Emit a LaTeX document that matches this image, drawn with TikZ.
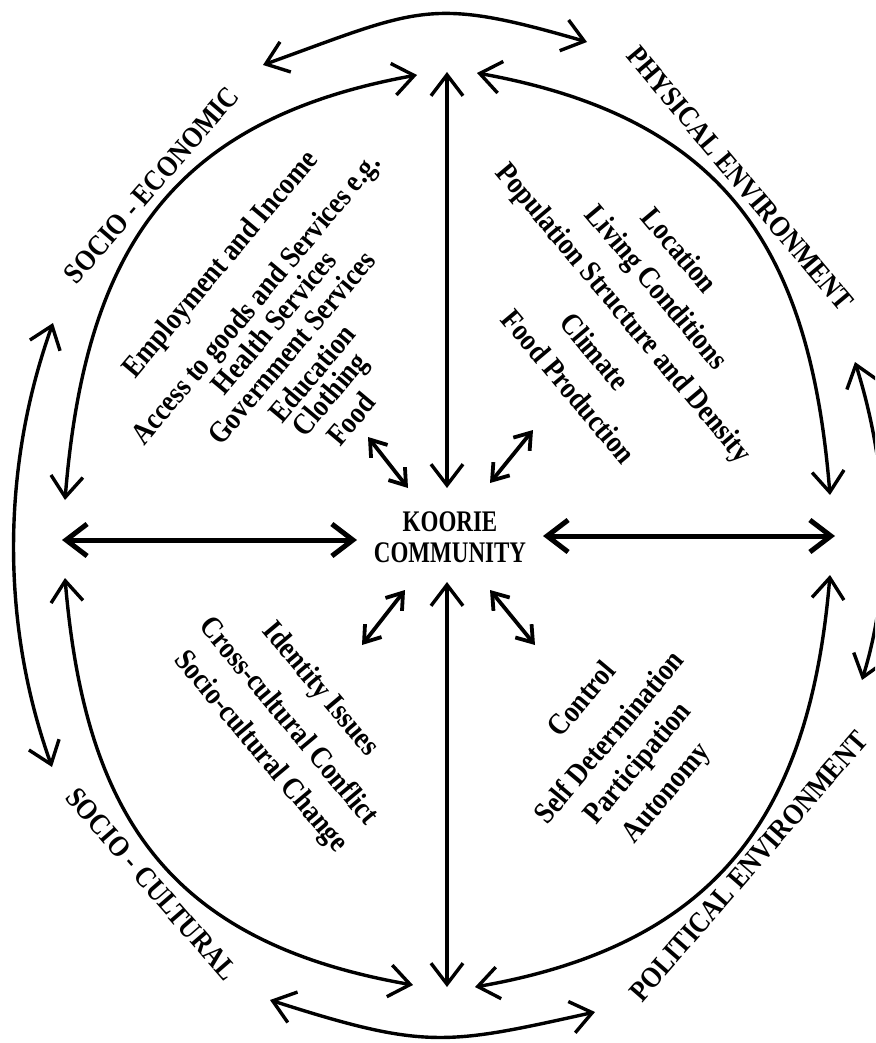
\documentclass[tikz,border=0pt]{standalone}
\usepackage{fontspec}
\setmainfont{Liberation Serif}
\usetikzlibrary{arrows.meta}
\begin{document}
\begin{tikzpicture}[x=1pt,y=-1pt,
  >={Straight Barb[length=21pt,width=32pt]},
  small/.style={arrows={Straight Barb[length=15pt,width=21pt]-Straight Barb[length=15pt,width=21pt]}},
  arcline/.style={line width=3.4pt,<->},
  axis/.style={line width=3.4pt,<->},
  haxis/.style={line width=5pt,<->},
  diag/.style={line width=3.8pt,small},
  item/.style={font=\fontsize{26.5}{30}\selectfont\bfseries, inner sep=0pt, yscale=1.15},
  lab/.style={font=\fontsize{25.5}{30}\selectfont\bfseries, inner sep=0pt, yscale=1.15},
  centre/.style={font=\fontsize{23}{24}\selectfont\bfseries, inner sep=0pt, align=center, yscale=1.3}
]
\useasboundingbox (0,0) rectangle (875,1043);
\fill[white] (0,0) rectangle (875,1043);
\clip (0,0) rectangle (875,1043);

% centre
\node[centre] (kc) at (450,537) {KOORIE\\COMMUNITY};

% axis arrows
\coordinate (vt1) at (447,72);  \coordinate (vt2) at (447,488);
\coordinate (vb1) at (447,582); \coordinate (vb2) at (447,987);
\coordinate (hl1) at (62,540);  \coordinate (hl2) at (357,540);
\coordinate (hr1) at (543,536); \coordinate (hr2) at (835,536);
\draw[axis] (vt1) -- (vt2);
\draw[axis] (vb1) -- (vb2);
\draw[haxis] (hl1) -- (hl2);
\draw[haxis] (hr1) -- (hr2);

% diagonal arrows
\coordinate (d1a) at (368,437); \coordinate (d1b) at (408,488);
\coordinate (d2a) at (533,430); \coordinate (d2b) at (490,483);
\coordinate (d3a) at (405,590); \coordinate (d3b) at (362,645);
\coordinate (d4a) at (490,590); \coordinate (d4b) at (535,645);
\draw[diag] (d1a) -- (d1b);
\draw[diag] (d2a) -- (d2b);
\draw[diag] (d3a) -- (d3b);
\draw[diag] (d4a) -- (d4b);

% inner arcs
\coordinate (tl1) at (417,75);  \coordinate (tl2) at (65,500);
\coordinate (tr1) at (477,73);  \coordinate (tr2) at (830,495);
\coordinate (bl1) at (65,578);  \coordinate (bl2) at (413,985);
\coordinate (br1) at (830,575); \coordinate (br2) at (475,987);
\draw[arcline] (tl1) .. controls (168,120) and (85,254) .. (tl2);
\draw[arcline] (tr1) .. controls (726,118) and (810,249) .. (tr2);
\draw[arcline] (bl1) .. controls (85,814) and (167,942) .. (bl2);
\draw[arcline] (br1) .. controls (810,811) and (721,944) .. (br2);

% outer arcs
\coordinate (ot1) at (263,65);  \coordinate (ot2) at (587,42);
\coordinate (ob1) at (270,1000); \coordinate (ob2) at (595,1012);
\coordinate (ol1) at (53,323);  \coordinate (ol2) at (52,767);
\coordinate (or1) at (855,362); \coordinate (or2) at (862,680);
\draw[arcline] (ot1) .. controls (421,8) and (429,-4) .. (ot2);
\draw[arcline] (ob1) .. controls (426,1050) and (446,1045) .. (ob2);
\draw[arcline] (ol1) .. controls (1.5,467) and (0.6,623) .. (ol2);
\draw[arcline] (or1) .. controls (887.6,465.5) and (894,576) .. (or2);

% quadrant labels
\node[rotate=49, lab]  (se) at (151.5,185) {SOCIO - ECONOMIC};
\node[rotate=-50, lab] (pe) at (740,178.5) {PHYSICAL ENVIRONMENT};
\node[rotate=-49, lab] (sc) at (151.5,884) {SOCIO - CULTURAL};
\node[rotate=49, lab]  (po) at (748.5,866.5) {POLITICAL ENVIRONMENT};

% socio-economic items
\node[rotate=50, item] (a1) at (221.5,265) {Employment and Income};
\node[rotate=50, item] (a2) at (257.5,300.5) {Access to goods and Services e.g.};
\node[rotate=50, item] (a3) at (273.5,322) {Health Services};
\node[rotate=50, item] (a4) at (291,347.5) {Government Services};
\node[rotate=50, item] (a5) at (312,373) {Education};
\node[rotate=50, item] (a6) at (331.5,396) {Clothing};
\node[rotate=50, item] (a7) at (351,419) {Food};

% physical environment items
\node[rotate=-50, item] (b1) at (680,250) {Location};
\node[rotate=-50, item] (b2) at (655,288.5) {Living Conditions};
\node[rotate=-50, item] (b3) at (622.5,314) {Population Structure and Density};
\node[rotate=-50, item] (b4) at (595,351.5) {Climate};
\node[rotate=-50, item] (b5) at (569,386.5) {Food Production};

% socio-cultural items
\node[rotate=-50, item] (c1) at (320,690) {Identity Issues};
\node[rotate=-50, item] (c2) at (290,720) {Cross-cultural Conflict};
\node[rotate=-50, item] (c3) at (260,752.5) {Socio-cultural Change};

% political items
\node[rotate=50, item] (p1) at (581,698.5) {Control};
\node[rotate=50, item] (p2) at (608.5,736.5) {Self Determination};
\node[rotate=50, item] (p3) at (639,764) {Participation};
\node[rotate=50, item] (p4) at (667.5,794) {Autonomy};
\end{tikzpicture}
\end{document}
